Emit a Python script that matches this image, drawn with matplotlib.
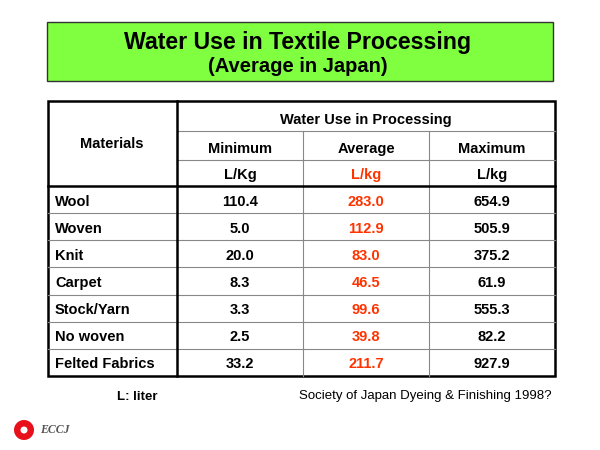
import matplotlib
matplotlib.use("Agg")
import matplotlib.pyplot as plt
from matplotlib.patches import Rectangle, Circle

materials = ["Wool", "Woven", "Knit", "Carpet", "Stock/Yarn", "No woven", "Felted Fabrics"]
minimum = ["110.4", "5.0", "20.0", "8.3", "3.3", "2.5", "33.2"]
average = ["283.0", "112.9", "83.0", "46.5", "99.6", "39.8", "211.7"]
maximum = ["654.9", "505.9", "375.2", "61.9", "555.3", "82.2", "927.9"]
col_heads = ["Minimum", "Average", "Maximum"]
units = ["L/Kg", "L/kg", "L/kg"]

fig = plt.figure(figsize=(6, 4.5), dpi=100)
ax = fig.add_axes([0, 0, 1, 1])
ax.set_xlim(0, 600); ax.set_ylim(450, 0); ax.axis("off")
F = "Liberation Sans"
red = "#FF3300"

ax.add_patch(Rectangle((47, 22), 506, 59, facecolor="#80FF40", edgecolor="#333333", lw=1))
ax.text(298, 42, "Water Use in Textile Processing", ha="center", va="center", fontsize=16.7, fontweight="bold", family=F)
ax.text(298, 66, "(Average in Japan)", ha="center", va="center", fontsize=14.5, fontweight="bold", family=F)

L, R, T, B = 48, 555, 101, 376
xs = [48, 177, 303, 429, 555]
hdr = 186
rh = (B - hdr) / len(materials)
thin = dict(color="#888888", lw=0.8)
ax.plot([177, R], [131, 131], **thin)
ax.plot([177, R], [160, 160], **thin)
for x in (303, 429):
    ax.plot([x, x], [131, B], **thin)
for i in range(1, len(materials)):
    y = hdr + i * rh
    ax.plot([L, R], [y, y], **thin)
ax.plot([L, R], [hdr, hdr], color="black", lw=1.8)
ax.plot([177, 177], [T, B], color="black", lw=1.8)
ax.add_patch(Rectangle((L, T), R - L, B - T, fill=False, edgecolor="black", lw=1.8))

fs = 10.5
ax.text(112, 144, "Materials", ha="center", va="center", fontsize=fs, fontweight="bold", family=F)
ax.text(366, 120, "Water Use in Processing", ha="center", va="center", fontsize=fs, fontweight="bold", family=F)
for j in range(3):
    cx = (xs[j + 1] + xs[j + 2]) / 2
    ax.text(cx, 149, col_heads[j], ha="center", va="center", fontsize=fs, fontweight="bold", family=F)
    ax.text(cx, 175, units[j], ha="center", va="center", fontsize=fs, fontweight="bold", family=F,
            color=red if j == 1 else "black")
for i, m in enumerate(materials):
    cy = hdr + (i + 0.5) * rh + 2
    ax.text(55, cy, m, ha="left", va="center", fontsize=fs, fontweight="bold", family=F)
    for j, (vals, c) in enumerate([(minimum, "black"), (average, red), (maximum, "black")]):
        cx = (xs[j + 1] + xs[j + 2]) / 2
        ax.text(cx, cy, vals[i], ha="center", va="center", fontsize=fs, fontweight="bold", family=F, color=c)

ax.text(137, 397, "L: liter", ha="center", va="center", fontsize=9.5, fontweight="bold", family=F)
ax.text(552, 396, "Society of Japan Dyeing & Finishing 1998?", ha="right", va="center", fontsize=9.5, family=F)

ax.add_patch(Circle((24, 430), 10, facecolor="#E8101A", edgecolor="none"))
ax.add_patch(Circle((24, 430), 3.5, facecolor="white", edgecolor="none"))
ax.text(40, 430, "ECCJ", ha="left", va="center", fontsize=8.5, fontstyle="italic", fontweight="bold",
        family="Liberation Serif", color="#555555")

fig.savefig("out.png", dpi=100)
